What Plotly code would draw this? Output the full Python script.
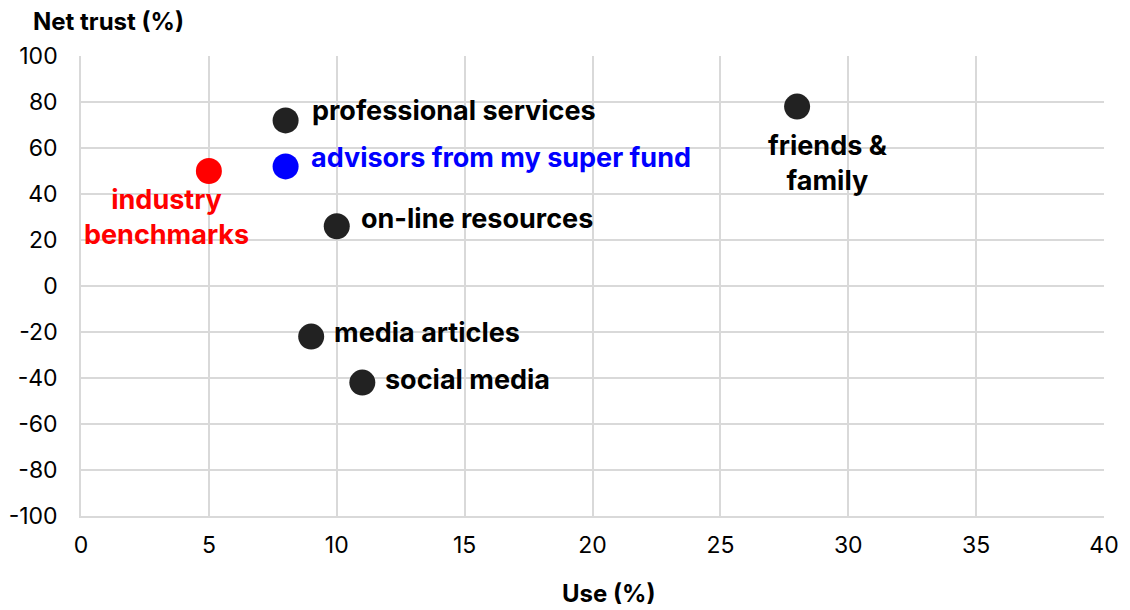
import plotly.graph_objects as go

# Channels: usage (%) against net trust (%)
channels = ["industry benchmarks", "advisors from my super fund", "professional services",
            "on-line resources", "media articles", "social media", "friends & family"]
use_pct = [5, 8, 8, 10, 9, 11, 28]
net_trust = [50, 52, 72, 26, -22, -42, 78]
label_text = ["industry<br>benchmarks", "advisors from my super fund", "professional services",
              "on-line resources", "media articles", "social media", "friends &<br>family"]

x_ticks = [0, 5, 10, 15, 20, 25, 30, 35, 40]
y_ticks = [-100, -80, -60, -40, -20, 0, 20, 40, 60, 80, 100]

DARK = "#222222"
point_colors = ["#ff0000", "#0000ff", DARK, DARK, DARK, DARK, DARK]
text_colors = ["#ff0000", "#0000ff", "#000000", "#000000", "#000000", "#000000", "#000000"]

# label placement per point: (xanchor, yanchor, xshift, yshift)
label_place = [
    ("center", "top", -42, -10),
    ("left", "middle", 23, 9),
    ("left", "middle", 24, 10),
    ("left", "middle", 22, 8),
    ("left", "middle", 21, 4),
    ("left", "middle", 21, 3),
    ("center", "top", 31, -20),
]

FONT = "Inter, Roboto, sans-serif"
GRID = "#d9d9d9"

fig = go.Figure()
fig.add_trace(go.Scatter(
    x=use_pct, y=net_trust, mode="markers",
    marker=dict(size=26, color=point_colors, line=dict(width=0)),
    hovertext=channels, hoverinfo="text+x+y",
    showlegend=False,
))

annotations = []
for xv, yv, txt, col, (xa, ya, xs, ys) in zip(use_pct, net_trust, label_text, text_colors, label_place):
    annotations.append(dict(
        x=xv, y=yv, xref="x", yref="y", text=txt, showarrow=False,
        xanchor=xa, yanchor=ya, xshift=xs, yshift=ys, align="center",
        font=dict(family=FONT, size=27, color=col, weight="bold"),
    ))

annotations.append(dict(
    x=-0.049, y=1.075, xref="paper", yref="paper", text="Net trust (%)", showarrow=False,
    xanchor="left", yanchor="middle",
    font=dict(family=FONT, size=24, color="#000000", weight="bold"),
))
annotations.append(dict(
    x=0.516, y=-0.168, xref="paper", yref="paper", text="Use (%)", showarrow=False,
    xanchor="center", yanchor="middle",
    font=dict(family=FONT, size=24, color="#000000", weight="bold"),
))

fig.update_layout(
    width=1130, height=610,
    margin=dict(l=81, r=26, t=56, b=94),
    paper_bgcolor="white", plot_bgcolor="white",
    font=dict(family=FONT, size=23, color="#000000"),
    annotations=annotations,
    xaxis=dict(
        range=[0, 40], tickvals=x_ticks, ticktext=[str(v) for v in x_ticks],
        showgrid=True, gridcolor=GRID, gridwidth=1.5,
        showline=True, linecolor=GRID, linewidth=1.5,
        zeroline=False, ticks="", ticklabelstandoff=8, automargin=False,
        tickfont=dict(family=FONT, size=23, color="#000000"),
    ),
    yaxis=dict(
        range=[-100, 100], tickvals=y_ticks, ticktext=[str(v) for v in y_ticks],
        showgrid=True, gridcolor=GRID, gridwidth=1.5,
        showline=True, linecolor=GRID, linewidth=1.5,
        zeroline=False, ticks="", ticklabelstandoff=17, automargin=False,
        tickfont=dict(family=FONT, size=23, color="#000000"),
    ),
)

fig.write_html("out.html")
